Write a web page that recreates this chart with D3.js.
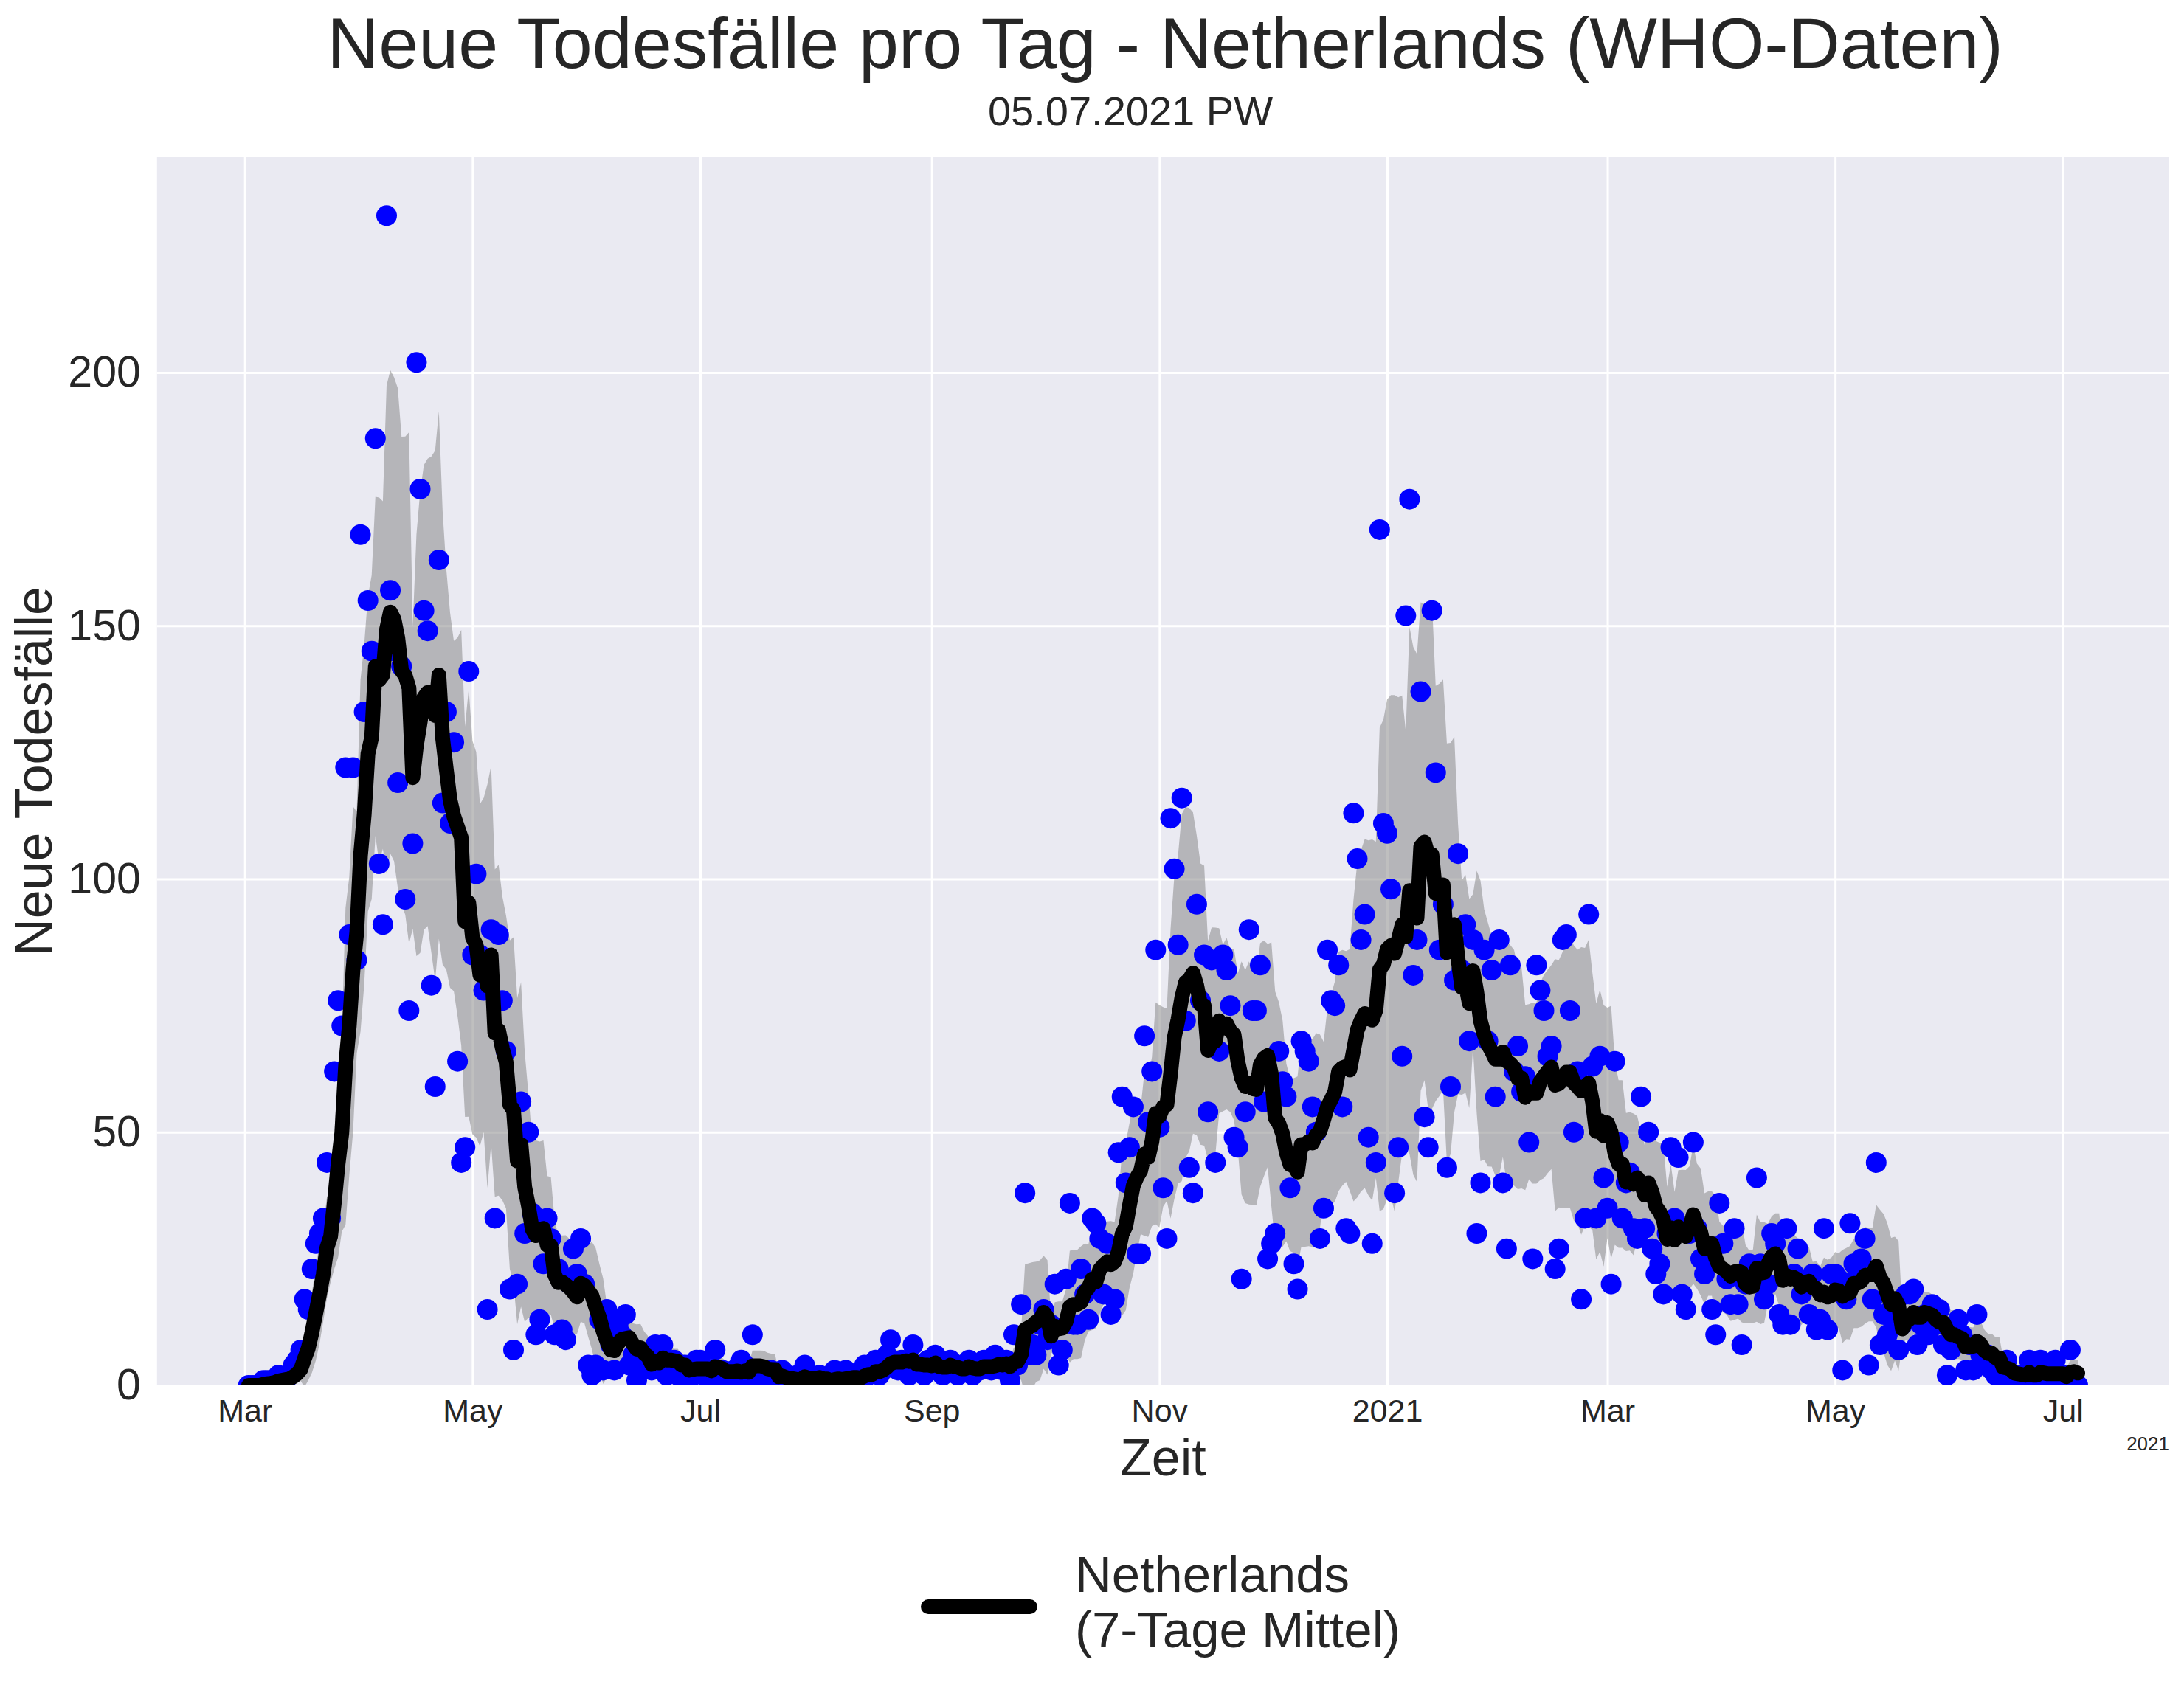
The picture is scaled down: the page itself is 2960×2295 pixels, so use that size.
<!DOCTYPE html>
<html>
<head>
<meta charset="utf-8">
<script src="https://cdn.jsdelivr.net/npm/d3@7"></script>
<style>
  body { margin: 0; background: #fff; }
  text { font-family: "Liberation Sans", Arial, sans-serif; fill: #262626; }
</style>
</head>
<body>
<svg id="chart" width="2960" height="2295"></svg>
<script>
// daily new deaths (WHO), one array per month
var firstDay = "2020-03-02";
var mar20 = [0,0,0,0,1,1,1,1,2,1,1,2,4,5,7,17,15,23,28,30,33,44,33,62,76,71,122,89,122,84];
var apr20 = [168,133,155,145,187,103,91,231,157,145,119,142,96,74,107,202,177,153,149,79,59,163,115,133,111,127,64,44,47,141];
var may20 = [85,101,85,78,15,90,33,89,76,66,19,7,20,56,30,50,34,10,13,24,33,29,10,23,11,9,20,27,22,29,20];
var jun20 = [4,2,4,13,3,15,8,3,12,10,14,4,6,1,5,4,6,3,8,4,8,2,4,5,2,3,4,1,3,5];
var jul20 = [5,2,3,1,7,2,3,1,2,3,2,5,4,1,10,2,3,1,2,3,1,0,3,1,0,1,2,1,4,1,0];
var aug20 = [1,2,0,1,1,3,1,0,3,1,2,1,2,4,2,3,5,2,3,6,9,4,3,5,4,2,8,3,4,2,5];
var sep20 = [3,6,3,2,4,5,3,2,4,3,5,2,4,3,5,4,3,6,4,3,5,1,10,4,16,38,6,8,6,12];
var oct20 = [15,9,12,20,4,7,21,36,12,12,23,18,13,33,32,29,18,28,14,17,46,57,40,47,55,26,26,69,52,62,86];
var nov20 = [51,39,29,112,102,87,116,72,43,38,95,76,85,54,84,44,66,85,82,75,49,47,21,54,90,74,74,83,56,25];
var dec20 = [28,30,66,60,57,39,24,19,68,66,64,55,50,29,35,86,76,75,83,55,31,30,113,104,88,93,49,28,44,169,111];
var jan21 = [109,98,38,47,65,152,175,81,88,137,53,47,153,121,86,95,43,59,80,105,82,91,68,88,30,40,86,68,82,57,88];
var feb21 = [40,27,83,62,67,58,61,48,25,83,78,74,65,67,23,27,88,89,74,50,62,17,33,93,63,33,65,41];
var mar21 = [35,20,64,48,33,40,42,31,29,57,31,50,27,22,24,18,30,47,33,45,18,15,30,48,31,25,22,25,15,10,36];
var apr21 = [28,21,16,31,16,8,20,24,22,41,24,17,20,30,28,14,12,31,12,22,27,18,20,14,22,11,13,31,11,22];
var may21 = [22,21,3,17,32,24,22,25,29,4,17,44,8,14,10,15,12,7,12,18,18,19,8,12,14,10,16,12,15,8,2];
var jun21 = [7,10,13,10,3,8,3,14,6,4,6,3,2,3,1,5,2,1,2,1,2,5,1,2,5,1,0,2,5,1];
var jul21 = [2,1,7,1,0];

var yTicks = [0, 50, 100, 150, 200];
var xTicks = ["2020-03-01","2020-05-01","2020-07-01","2020-09-01","2020-11-01",
              "2021-01-01","2021-03-01","2021-05-01","2021-07-01"];

var country = "Netherlands";
var titleText = "Neue Todesfälle pro Tag - " + country + " (WHO-Daten)";
var subText = "05.07.2021 PW";

var deaths = [].concat(mar20, apr20, may20, jun20, jul20, aug20, sep20, oct20,
                       nov20, dec20, jan21, feb21, mar21, apr21, may21, jun21, jul21);

var parse = d3.utcParse("%Y-%m-%d");
var t0 = parse(firstDay);

// trailing 7 day mean and spread
var rows = deaths.map(function (v, i) {
  var win = deaths.slice(Math.max(0, i - 6), i + 1);
  return {
    date: d3.utcDay.offset(t0, i),
    v: v,
    mean: d3.mean(win),
    sd: win.length > 1 ? d3.deviation(win) : 0
  };
});

var svg = d3.select("#chart");
var plotLeft = 212.8, plotRight = 2940, plotTop = 213, plotBottom = 1878;

var first = rows[0].date, last = rows[rows.length - 1].date;
var pad = (last - first) * 0.05;
var x = d3.scaleUtc()
  .domain([new Date(+first - pad), new Date(+last + pad)])
  .range([plotLeft, plotRight]);
var y = d3.scaleLinear()
  .domain([0, d3.max(deaths) * 1.05])
  .range([plotBottom, plotTop]);

svg.append("rect")
  .attr("x", plotLeft).attr("y", plotTop)
  .attr("width", plotRight - plotLeft).attr("height", plotBottom - plotTop)
  .attr("fill", "#eaeaf2");

svg.append("clipPath").attr("id", "plotclip")
  .append("rect")
  .attr("x", plotLeft).attr("y", plotTop)
  .attr("width", plotRight - plotLeft).attr("height", plotBottom - plotTop);

var tickDates = xTicks.map(parse);

// grid
svg.append("g")
  .attr("transform", "translate(0," + plotBottom + ")")
  .call(d3.axisBottom(x).tickValues(tickDates).tickSize(-(plotBottom - plotTop)).tickFormat(""))
  .call(function (g) {
    g.select(".domain").remove();
    g.selectAll("line").attr("stroke", "#fff").attr("stroke-width", 3);
  });
svg.append("g")
  .attr("transform", "translate(" + plotLeft + ",0)")
  .call(d3.axisLeft(y).tickValues(yTicks).tickSize(-(plotRight - plotLeft)).tickFormat(""))
  .call(function (g) {
    g.select(".domain").remove();
    g.selectAll("line").attr("stroke", "#fff").attr("stroke-width", 3);
  });

var plot = svg.append("g").attr("clip-path", "url(#plotclip)");

plot.append("path")
  .datum(rows)
  .attr("fill", "gray")
  .attr("fill-opacity", 0.5)
  .attr("d", d3.area()
    .x(function (d) { return x(d.date); })
    .y0(function (d) { return y(d.mean - d.sd); })
    .y1(function (d) { return y(d.mean + d.sd); }));

plot.selectAll("circle")
  .data(rows)
  .join("circle")
  .attr("cx", function (d) { return x(d.date); })
  .attr("cy", function (d) { return y(d.v); })
  .attr("r", 14)
  .attr("fill", "#0000ff");

plot.append("path")
  .datum(rows)
  .attr("fill", "none")
  .attr("stroke", "#000")
  .attr("stroke-width", 20)
  .attr("stroke-linejoin", "round")
  .attr("stroke-linecap", "round")
  .attr("d", d3.line()
    .x(function (d) { return x(d.date); })
    .y(function (d) { return y(d.mean); }));

// tick labels
var fmtMonth = d3.utcFormat("%b"), fmtYear = d3.utcFormat("%Y");
svg.append("g")
  .attr("transform", "translate(0," + plotBottom + ")")
  .call(d3.axisBottom(x).tickValues(tickDates).tickSize(0).tickPadding(18)
    .tickFormat(function (d) { return d.getUTCMonth() === 0 ? fmtYear(d) : fmtMonth(d); }))
  .call(function (g) {
    g.select(".domain").remove();
    g.selectAll("text").attr("font-size", 43).attr("font-family", null).attr("fill", "#262626");
  });
svg.append("g")
  .attr("transform", "translate(" + plotLeft + ",0)")
  .call(d3.axisLeft(y).tickValues(yTicks).tickSize(0).tickPadding(22))
  .call(function (g) {
    g.select(".domain").remove();
    g.selectAll("text").attr("font-size", 59).attr("font-family", null).attr("fill", "#262626");
  });

svg.append("text")
  .attr("x", plotRight).attr("y", 1966)
  .attr("text-anchor", "end")
  .attr("font-size", 26)
  .text("2021");

svg.append("text")
  .attr("x", 1579).attr("y", 92)
  .attr("text-anchor", "middle")
  .attr("font-size", 97)
  .text(titleText);
svg.append("text")
  .attr("x", 1532).attr("y", 170)
  .attr("text-anchor", "middle")
  .attr("font-size", 56)
  .text(subText);

svg.append("text")
  .attr("x", (plotLeft + plotRight) / 2).attr("y", 2000)
  .attr("text-anchor", "middle")
  .attr("font-size", 70)
  .text("Zeit");
svg.append("text")
  .attr("transform", "translate(70," + (plotTop + plotBottom) / 2 + ") rotate(-90)")
  .attr("text-anchor", "middle")
  .attr("font-size", 70)
  .text("Neue Todesfälle");

// legend
var legend = svg.append("g");
legend.append("line")
  .attr("x1", 1258).attr("x2", 1396)
  .attr("y1", 2178).attr("y2", 2178)
  .attr("stroke", "#000").attr("stroke-width", 20)
  .attr("stroke-linecap", "round");
legend.append("text")
  .attr("x", 1457).attr("y", 2158)
  .attr("font-size", 69)
  .text(country);
legend.append("text")
  .attr("x", 1457).attr("y", 2233)
  .attr("font-size", 69)
  .text("(7-Tage Mittel)");
</script>
</body>
</html>
